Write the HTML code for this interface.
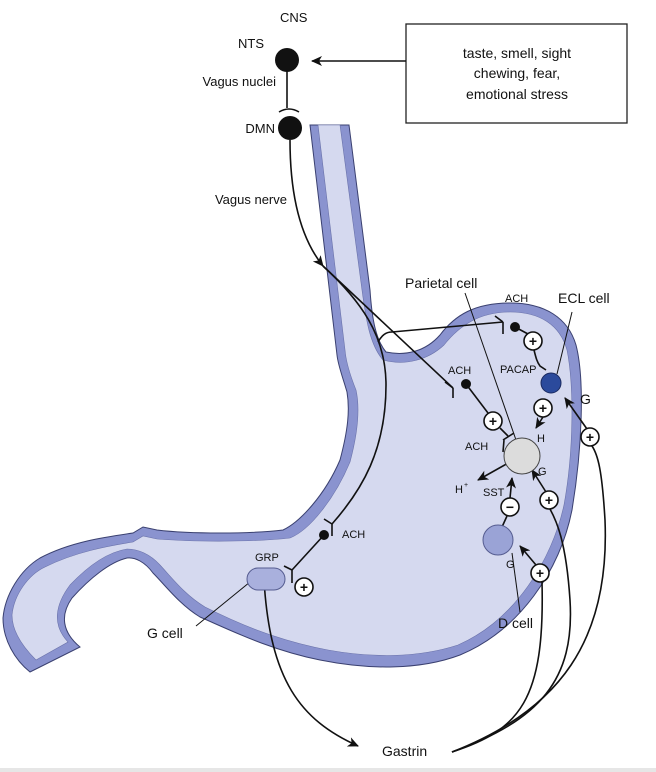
<!DOCTYPE html>
<html><head><style>
html,body{margin:0;padding:0;background:#fff;}
svg{display:block;font-family:"Liberation Sans",Arial,sans-serif;}
</style></head><body>
<svg width="656" height="772" viewBox="0 0 656 772" xmlns="http://www.w3.org/2000/svg">
<defs>
<marker id="ah" markerWidth="12" markerHeight="10" refX="10" refY="5" orient="auto" markerUnits="userSpaceOnUse">
<path d="M0,0 L11,5 L0,10 L3,5 Z" fill="#111"/>
</marker>
</defs>
<rect x="0" y="768" width="656" height="4" fill="#e6e6e6"/>
<path d="M310,125 L349,125 L370,290 C372,320 376,340 386,352 C405,356 425,352 440,335 C455,315 475,303 510,303 C545,303 568,318 576,345 C585,380 582,450 572,510 C560,570 520,630 460,655 C420,670 370,670 320,660 C270,650 230,630 200,617 C180,605 165,585 153,573 C145,562 135,557 127,558 C110,562 90,578 72,598 C60,615 62,632 80,647 L30,672 C15,660 3,640 3,618 C5,595 20,570 40,558 C70,542 105,537 133,533 L143,527 L157,530 C190,534 250,534 283,530 C300,522 325,495 340,460 C348,430 350,410 347,392 C342,375 338,365 337,355 Z" fill="#8a93cf" stroke="#3a4070" stroke-width="1"/>
<path d="M318,125 L340,125 L362,290 C366,320 370,345 383,360 C405,366 428,360 444,345 C460,325 480,312 510,312 C540,312 560,325 567,350 C574,385 574,450 564,505 C552,560 515,620 458,645 C418,658 372,658 328,650 C275,640 235,622 205,607 C185,595 172,578 160,565 C150,554 138,549 127,549 C108,552 88,566 70,585 C55,605 52,625 68,642 L36,660 C24,648 12,632 12,615 C14,595 28,575 45,567 C75,552 108,546 133,542 L143,536 L157,539 C195,542 255,542 290,538 C310,530 335,498 350,462 C358,432 360,408 356,390 C350,375 346,362 345,350 Z" fill="#d5d9ef" stroke="#6a72aa" stroke-width="0.6"/>
<g font-size="13" fill="#111">
<text x="280" y="22">CNS</text>
<text x="238" y="48">NTS</text>
<text x="276" y="86" text-anchor="end">Vagus nuclei</text>
<text x="275" y="133" text-anchor="end">DMN</text>
<text x="287" y="204" text-anchor="end">Vagus nerve</text>
</g>
<circle cx="287" cy="60" r="12" fill="#111"/>
<line x1="287" y1="70" x2="287" y2="108" stroke="#111" stroke-width="1.6"/>
<path d="M279,112 Q289,106 299,112" fill="none" stroke="#111" stroke-width="1.6"/>
<circle cx="290" cy="128" r="12" fill="#111"/>
<rect x="406" y="24" width="221" height="99" fill="#fff" stroke="#222" stroke-width="1.3"/>
<g font-size="14" fill="#111" text-anchor="middle">
<text x="517" y="58">taste, smell, sight</text>
<text x="517" y="78">chewing, fear,</text>
<text x="517" y="99">emotional stress</text>
</g>
<line x1="406" y1="61" x2="312" y2="61" stroke="#111" stroke-width="1.6" marker-end="url(#ah)"/>
<g fill="none" stroke="#111" stroke-width="1.6">
<path d="M290,140 C290,200 302,240 323,266" marker-end="url(#ah)"/>
<path d="M323,266 L453,388"/>
<path d="M378,342 C382,335 386,332 392,332 L503,322"/>
<path d="M323,266 C360,300 386,335 386,385 C386,450 362,490 332,524"/>
<path d="M453,388 L445,382 M453,388 L453,398 M503,322 L495,316 M503,322 L503,334"/>
<line x1="466" y1="384" x2="488" y2="413"/>
<line x1="500" y1="428" x2="508" y2="436"/>
<path d="M503,440 L514,433 M504,440 L503,452"/>
<line x1="515" y1="327" x2="528" y2="334"/>
<path d="M534,350 C536,358 537,362 540,366 L546,370"/>
<line x1="543" y1="417" x2="536" y2="428" marker-end="url(#ah)"/>
<line x1="510" y1="462" x2="478" y2="480" marker-end="url(#ah)"/>
<line x1="510" y1="498" x2="512" y2="478" marker-end="url(#ah)"/>
<line x1="507" y1="516" x2="502" y2="527"/>
<line x1="546" y1="492" x2="532" y2="470" marker-end="url(#ah)"/>
<line x1="587" y1="429" x2="565" y2="398" marker-end="url(#ah)"/>
<line x1="536" y1="565" x2="520" y2="546" marker-end="url(#ah)"/>
<line x1="465" y1="293" x2="516" y2="440" stroke-width="1"/>
<line x1="572" y1="312" x2="557" y2="374" stroke-width="1"/>
<line x1="512" y1="553" x2="520" y2="612" stroke-width="1"/>
<line x1="196" y1="626" x2="250" y2="582" stroke-width="1"/>
<path d="M332,524 L324,519 M332,524 L332,536"/>
<line x1="324" y1="535" x2="292" y2="570"/>
<path d="M292,570 L284,566 M292,570 L292,583"/>
<path d="M264,580 C270,680 300,720 358,746" marker-end="url(#ah)"/>
<path d="M452,752 C520,730 545,700 542,582"/>
<path d="M452,752 C540,720 575,680 570,600 C566,540 556,520 550,509"/>
<path d="M452,752 C560,710 610,640 605,520 C602,470 598,455 592,446"/>
</g>
<circle cx="466" cy="384" r="5" fill="#111"/>
<circle cx="515" cy="327" r="5" fill="#111"/>
<circle cx="324" cy="535" r="5" fill="#111"/>
<circle cx="522" cy="456" r="18" fill="#dcdcdc" stroke="#444" stroke-width="1"/>
<circle cx="551" cy="383" r="10" fill="#2b4a9c" stroke="#1a2a60" stroke-width="1"/>
<circle cx="498" cy="540" r="15" fill="#9aa3d6" stroke="#555c90" stroke-width="1"/>
<rect x="247" y="568" width="38" height="22" rx="11" fill="#a9b0dd" stroke="#555c90" stroke-width="1"/>
<g fill="#fff" stroke="#111" stroke-width="1.6">
<circle cx="493" cy="421" r="9"/><circle cx="533" cy="341" r="9"/><circle cx="543" cy="408" r="9"/>
<circle cx="510" cy="507" r="9"/><circle cx="549" cy="500" r="9"/><circle cx="590" cy="437" r="9"/>
<circle cx="540" cy="573" r="9"/><circle cx="304" cy="587" r="9"/>
</g>
<g font-size="14" font-weight="bold" fill="#111" text-anchor="middle">
<text x="493" y="426">+</text><text x="533" y="346">+</text><text x="543" y="413">+</text>
<text x="510" y="512">−</text><text x="549" y="505">+</text><text x="590" y="442">+</text>
<text x="540" y="578">+</text><text x="304" y="592">+</text>
</g>
<g font-size="11" fill="#111">
<text x="505" y="302">ACH</text>
<text x="448" y="374">ACH</text>
<text x="465" y="450">ACH</text>
<text x="500" y="373">PACAP</text>
<text x="537" y="442">H</text>
<text x="538" y="475">G</text>
<text x="483" y="496">SST</text>
<text x="455" y="493">H</text><text x="464" y="487" font-size="7">+</text>
<text x="506" y="568">G</text>
<text x="255" y="561">GRP</text>
<text x="342" y="538">ACH</text>
</g>
<g font-size="14" fill="#111">
<text x="405" y="288">Parietal cell</text>
<text x="558" y="303">ECL cell</text>
<text x="580" y="404">G</text>
<text x="498" y="628">D cell</text>
<text x="147" y="638">G cell</text>
<text x="382" y="756">Gastrin</text>
</g>
</svg>
</body></html>
